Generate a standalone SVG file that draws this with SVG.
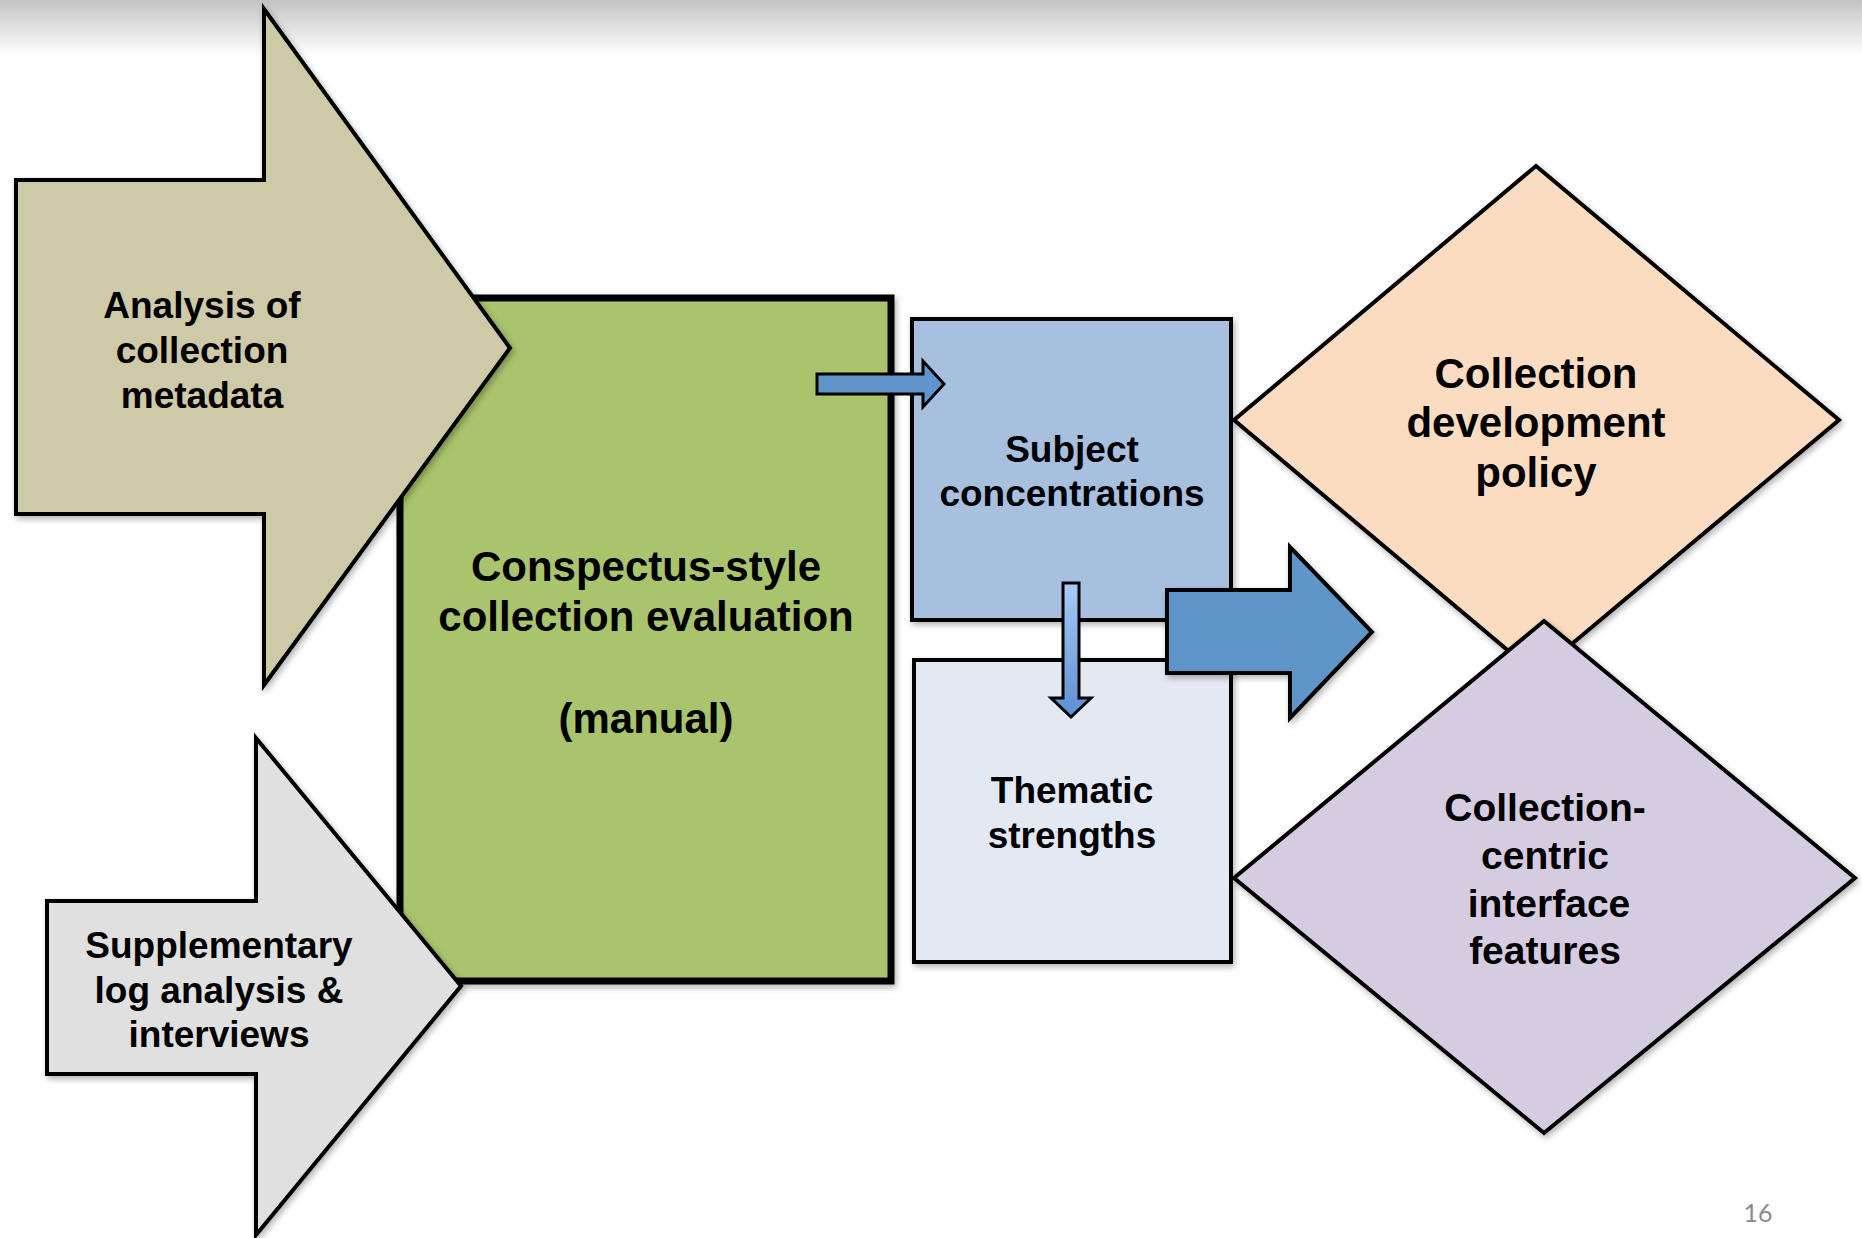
<svg xmlns="http://www.w3.org/2000/svg" width="1862" height="1238" viewBox="0 0 1862 1238">
<defs>
<linearGradient id="topband" x1="0" y1="0" x2="0" y2="1">
<stop offset="0" stop-color="#c4c4c4"/>
<stop offset="1" stop-color="#ffffff"/>
</linearGradient>
<linearGradient id="downgrad" x1="0" y1="0" x2="0" y2="1">
<stop offset="0" stop-color="#a9cbf6"/>
<stop offset="1" stop-color="#5b8fd2"/>
</linearGradient>
<filter id="sh" x="-10%" y="-10%" width="125%" height="125%">
<feDropShadow dx="2" dy="3" stdDeviation="3" flood-color="#000" flood-opacity="0.3"/>
</filter>
</defs>
<style>
.lbl{font-family:"Liberation Sans",Arial,sans-serif;font-weight:bold;fill:#000;text-anchor:middle}
.s{stroke:#000;stroke-width:4;stroke-linejoin:miter}
.thin{stroke:#000;stroke-width:3;stroke-linejoin:miter}
</style>
<rect x="0" y="0" width="1862" height="1238" fill="#ffffff"/>
<rect x="0" y="0" width="1862" height="56" fill="url(#topband)"/>

<g id="conspectus">
<rect x="400" y="298" width="491" height="683" fill="#a9c46c" stroke="#000" stroke-width="7" filter="url(#sh)"/>
<text class="lbl" font-size="42" x="646" y="581">Conspectus-style</text>
<text class="lbl" font-size="42" x="646" y="631">collection evaluation</text>
<text class="lbl" font-size="42" x="646" y="733">(manual)</text>
</g>

<g id="analysis">
<polygon class="s" points="16,180 264,180 264,9 510,348 264,685 264,514 16,514" fill="#cec9a7" filter="url(#sh)"/>
<text class="lbl" font-size="37" x="202" y="318">Analysis of</text>
<text class="lbl" font-size="37" x="202" y="363">collection</text>
<text class="lbl" font-size="37" x="202" y="408">metadata</text>
</g>

<g id="supplementary">
<polygon class="s" points="47,901 256,901 256,738 461,986 256,1235 256,1074 47,1074" fill="#e0e0e0" filter="url(#sh)"/>
<text class="lbl" font-size="37" x="219" y="958">Supplementary</text>
<text class="lbl" font-size="37" x="219" y="1003">log analysis &amp;</text>
<text class="lbl" font-size="37" x="219" y="1047">interviews</text>
</g>

<g id="subject">
<rect class="s" x="912" y="319" width="319" height="301" fill="#a7c0df" filter="url(#sh)"/>
<text class="lbl" font-size="37" x="1072" y="462">Subject</text>
<text class="lbl" font-size="37" x="1072" y="506">concentrations</text>
</g>

<g id="thematic">
<rect class="s" x="914" y="660" width="317" height="302" fill="#e3e9f3" filter="url(#sh)"/>
<text class="lbl" font-size="37" x="1072" y="803">Thematic</text>
<text class="lbl" font-size="37" x="1072" y="848">strengths</text>
</g>

<g id="policy">
<polygon class="s" points="1536,166 1839,420 1536,674 1234,420" fill="#fbdcc0" filter="url(#sh)"/>
<text class="lbl" font-size="42" x="1536" y="388">Collection</text>
<text class="lbl" font-size="42" x="1536" y="437">development</text>
<text class="lbl" font-size="42" x="1536" y="487">policy</text>
</g>

<g id="interface">
<polygon class="s" points="1544,621 1855,878 1544,1133 1234,878" fill="#d5cce1" filter="url(#sh)"/>
<text class="lbl" font-size="39" x="1545" y="821">Collection-</text>
<text class="lbl" font-size="39" x="1545" y="869">centric</text>
<text class="lbl" font-size="39" x="1549" y="917">interface</text>
<text class="lbl" font-size="39" x="1545" y="964">features</text>
</g>

<g id="connectors">
<polygon class="thin" points="817,374 923,374 923,361 944,384 923,407 923,394 817,394" fill="#6094cb"/>
<polygon class="thin" points="1063,583 1079,583 1079,698 1091,698 1071,717 1051,698 1063,698" fill="url(#downgrad)"/>
<polygon class="s" points="1167,590 1290,590 1290,547 1372,632 1290,718 1290,673 1167,673" fill="#5f95c9" filter="url(#sh)"/>
</g>

<text x="1758" y="1222" font-family="Lato,'Open Sans',sans-serif" font-size="25" fill="#8c8c8c" text-anchor="middle">16</text>
</svg>
